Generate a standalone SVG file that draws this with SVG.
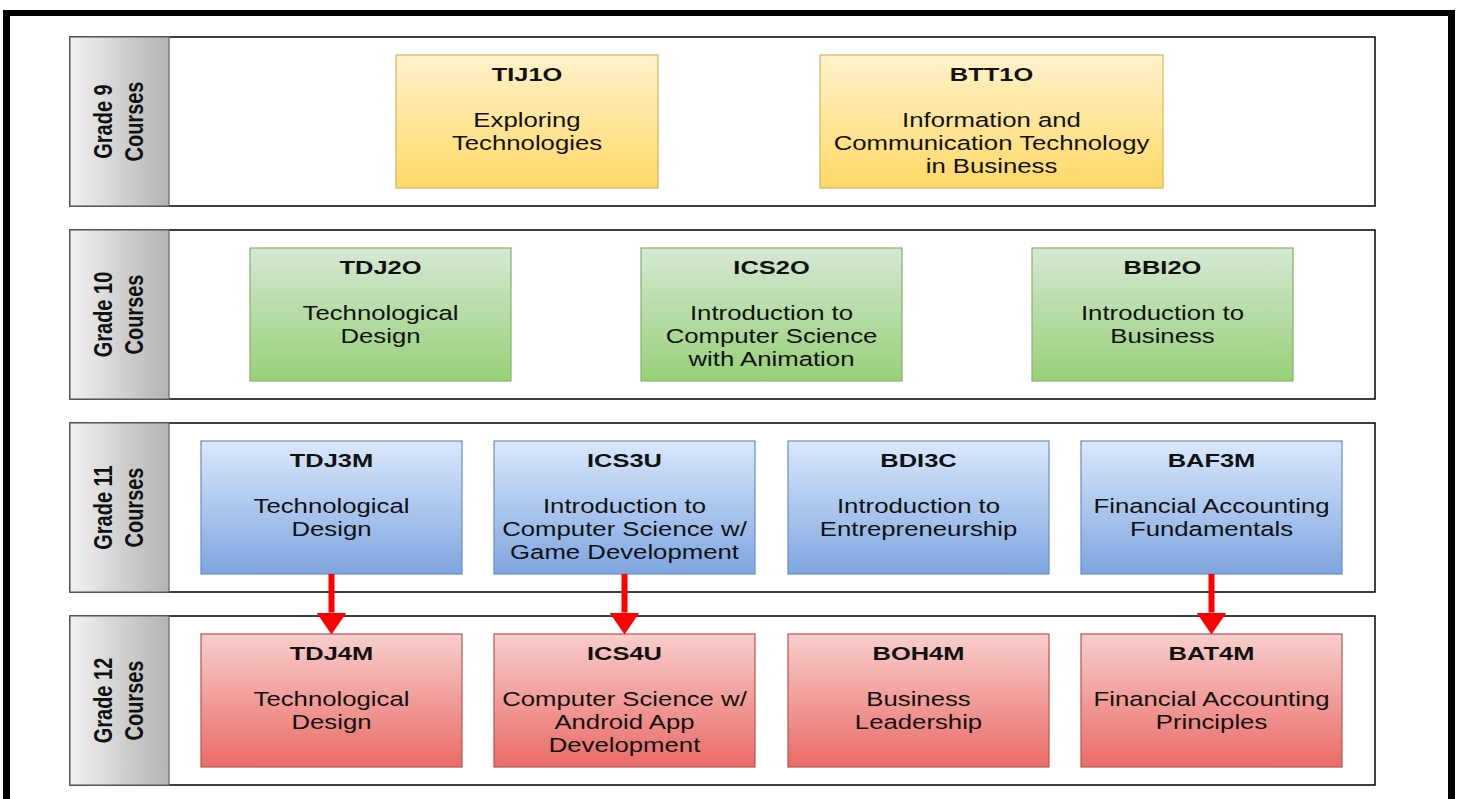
<svg xmlns="http://www.w3.org/2000/svg" width="1459" height="799" viewBox="0 0 1459 799">
<defs>
<linearGradient id="gY" x1="0" y1="0" x2="0" y2="1"><stop offset="0" stop-color="#fff2cc"/><stop offset="1" stop-color="#ffd966"/></linearGradient>
<linearGradient id="gG" x1="0" y1="0" x2="0" y2="1"><stop offset="0" stop-color="#d5e8d4"/><stop offset="1" stop-color="#97d077"/></linearGradient>
<linearGradient id="gB" x1="0" y1="0" x2="0" y2="1"><stop offset="0" stop-color="#dae8fc"/><stop offset="1" stop-color="#7ea6e0"/></linearGradient>
<linearGradient id="gR" x1="0" y1="0" x2="0" y2="1"><stop offset="0" stop-color="#f8cecc"/><stop offset="1" stop-color="#ea6b66"/></linearGradient>
<linearGradient id="gL" x1="0" y1="0" x2="1" y2="0"><stop offset="0" stop-color="#f2f2f2"/><stop offset="1" stop-color="#b3b3b3"/></linearGradient>
<marker id="ah" markerUnits="userSpaceOnUse" markerWidth="22" markerHeight="30" viewBox="0 0 22 30" refX="0" refY="15" orient="auto"><path d="M0,0 L22,15 L0,30 Z" fill="#ff0000"/></marker>
</defs>
<style>
.lane{fill:#fff;stroke:#000;stroke-width:1.5}
.lab{fill:url(#gL);stroke:#666;stroke-width:1.2}
.y{fill:url(#gY);stroke:#d6b656;stroke-width:1.2}
.g{fill:url(#gG);stroke:#82b366;stroke-width:1.2}
.b{fill:url(#gB);stroke:#6c8ebf;stroke-width:1.2}
.r{fill:url(#gR);stroke:#b85450;stroke-width:1.2}
text{font-family:"Liberation Sans",Arial,Helvetica,sans-serif;fill:#111;text-anchor:middle}
.tt{font-size:19.3px;font-weight:bold}
.bd{font-size:19.5px}
.lt{font-size:20px;font-weight:bold}
.con{fill:none;stroke:#ff0000;stroke-width:6}
</style>
<rect width="1459" height="799" fill="#fff"/>
<g id="frame" fill="#000">
<rect x="3" y="10" width="1452" height="6"/>
<rect x="3" y="10" width="7" height="789"/>
<rect x="1448" y="10" width="7" height="789"/>
</g>

<g id="lane9">
<rect class="lane" x="70" y="37" width="1305" height="169"/>
<rect class="lab" x="70" y="37" width="99" height="169"/>
<g transform="translate(119.5,121.5) scale(1.33,1) rotate(-90)"><text class="lt" x="0" y="-5.5">Grade 9</text><text class="lt" x="0" y="17.8">Courses</text></g>
</g>
<g id="lane10">
<rect class="lane" x="70" y="230" width="1305" height="169"/>
<rect class="lab" x="70" y="230" width="99" height="169"/>
<g transform="translate(119.5,314.5) scale(1.33,1) rotate(-90)"><text class="lt" x="0" y="-5.5">Grade 10</text><text class="lt" x="0" y="17.8">Courses</text></g>
</g>
<g id="lane11">
<rect class="lane" x="70" y="423" width="1305" height="169"/>
<rect class="lab" x="70" y="423" width="99" height="169"/>
<g transform="translate(119.5,507.5) scale(1.33,1) rotate(-90)"><text class="lt" x="0" y="-5.5">Grade 11</text><text class="lt" x="0" y="17.8">Courses</text></g>
</g>
<g id="lane12">
<rect class="lane" x="70" y="616" width="1305" height="169"/>
<rect class="lab" x="70" y="616" width="99" height="169"/>
<g transform="translate(119.5,700.5) scale(1.33,1) rotate(-90)"><text class="lt" x="0" y="-5.5">Grade 12</text><text class="lt" x="0" y="17.8">Courses</text></g>
</g>

<g id="TIJ1O"><rect class="y" x="396" y="55" width="262" height="133"/>
<g transform="translate(527,55) scale(1.32,1)"><text class="tt" y="26.5">TIJ1O</text><text class="bd" y="72">Exploring</text><text class="bd" y="95">Technologies</text></g></g>
<g id="BTT1O"><rect class="y" x="820" y="55" width="343" height="133"/>
<g transform="translate(991.5,55) scale(1.32,1)"><text class="tt" y="26.5">BTT1O</text><text class="bd" y="72">Information and</text><text class="bd" y="95">Communication Technology</text><text class="bd" y="118">in Business</text></g></g>

<g id="TDJ2O"><rect class="g" x="250" y="248" width="261" height="133"/>
<g transform="translate(380.5,248) scale(1.32,1)"><text class="tt" y="26.5">TDJ2O</text><text class="bd" y="72">Technological</text><text class="bd" y="95">Design</text></g></g>
<g id="ICS2O"><rect class="g" x="641" y="248" width="261" height="133"/>
<g transform="translate(771.5,248) scale(1.32,1)"><text class="tt" y="26.5">ICS2O</text><text class="bd" y="72">Introduction to</text><text class="bd" y="95">Computer Science</text><text class="bd" y="118">with Animation</text></g></g>
<g id="BBI2O"><rect class="g" x="1032" y="248" width="261" height="133"/>
<g transform="translate(1162.5,248) scale(1.32,1)"><text class="tt" y="26.5">BBI2O</text><text class="bd" y="72">Introduction to</text><text class="bd" y="95">Business</text></g></g>

<g id="TDJ3M"><rect class="b" x="201" y="441" width="261" height="133"/>
<g transform="translate(331.5,441) scale(1.32,1)"><text class="tt" y="26.5">TDJ3M</text><text class="bd" y="72">Technological</text><text class="bd" y="95">Design</text></g></g>
<g id="ICS3U"><rect class="b" x="494" y="441" width="261" height="133"/>
<g transform="translate(624.5,441) scale(1.32,1)"><text class="tt" y="26.5">ICS3U</text><text class="bd" y="72">Introduction to</text><text class="bd" y="95">Computer Science w/</text><text class="bd" y="118">Game Development</text></g></g>
<g id="BDI3C"><rect class="b" x="788" y="441" width="261" height="133"/>
<g transform="translate(918.5,441) scale(1.32,1)"><text class="tt" y="26.5">BDI3C</text><text class="bd" y="72">Introduction to</text><text class="bd" y="95">Entrepreneurship</text></g></g>
<g id="BAF3M"><rect class="b" x="1081" y="441" width="261" height="133"/>
<g transform="translate(1211.5,441) scale(1.32,1)"><text class="tt" y="26.5">BAF3M</text><text class="bd" y="72">Financial Accounting</text><text class="bd" y="95">Fundamentals</text></g></g>

<g id="TDJ4M"><rect class="r" x="201" y="634" width="261" height="133"/>
<g transform="translate(331.5,634) scale(1.32,1)"><text class="tt" y="26.5">TDJ4M</text><text class="bd" y="72">Technological</text><text class="bd" y="95">Design</text></g></g>
<g id="ICS4U"><rect class="r" x="494" y="634" width="261" height="133"/>
<g transform="translate(624.5,634) scale(1.32,1)"><text class="tt" y="26.5">ICS4U</text><text class="bd" y="72">Computer Science w/</text><text class="bd" y="95">Android App</text><text class="bd" y="118">Development</text></g></g>
<g id="BOH4M"><rect class="r" x="788" y="634" width="261" height="133"/>
<g transform="translate(918.5,634) scale(1.32,1)"><text class="tt" y="26.5">BOH4M</text><text class="bd" y="72">Business</text><text class="bd" y="95">Leadership</text></g></g>
<g id="BAT4M"><rect class="r" x="1081" y="634" width="261" height="133"/>
<g transform="translate(1211.5,634) scale(1.32,1)"><text class="tt" y="26.5">BAT4M</text><text class="bd" y="72">Financial Accounting</text><text class="bd" y="95">Principles</text></g></g>

<g id="connectors">
<path class="con" d="M331.5,574 V612.5" marker-end="url(#ah)"/>
<path class="con" d="M624.5,574 V612.5" marker-end="url(#ah)"/>
<path class="con" d="M1211.5,574 V612.5" marker-end="url(#ah)"/>
</g>
</svg>
